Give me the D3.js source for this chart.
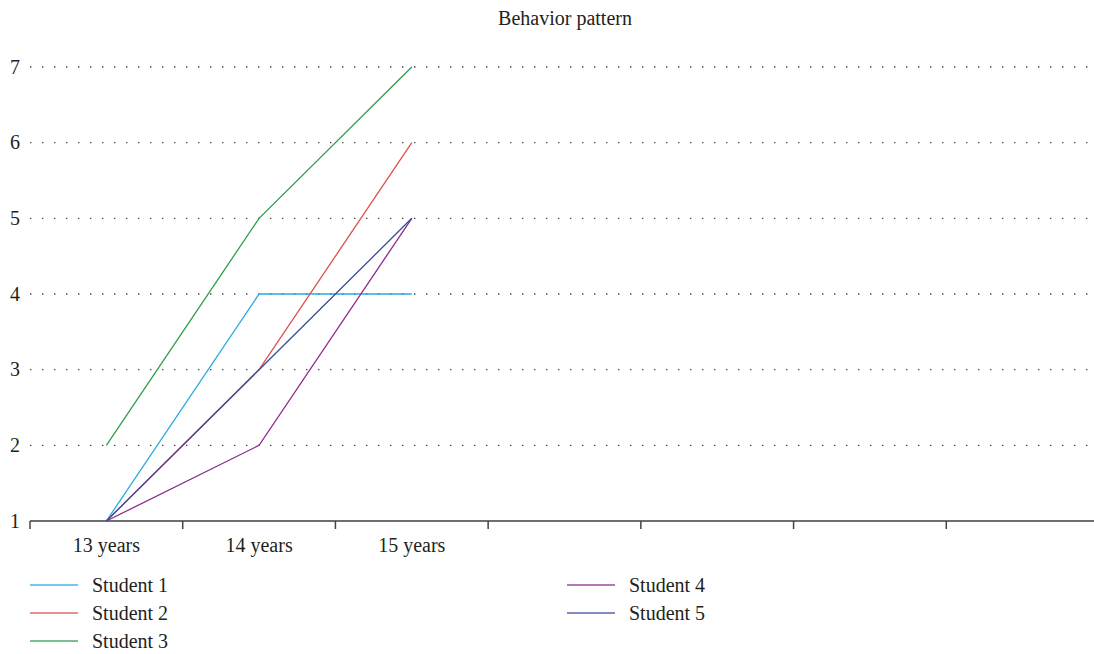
<!DOCTYPE html>
<html><head><meta charset="utf-8">
<script src="https://cdn.jsdelivr.net/npm/d3@7"></script>
<style>body{margin:0;background:#fff}svg{display:block}text{font-family:"Liberation Serif","DejaVu Serif",serif;fill:#231f20}</style>
</head><body><svg id="c" width="1094" height="654"></svg>
<script>
const categories = ["13 years","14 years","15 years","c4","c5","c6","c7"];
const shownLabels = ["13 years","14 years","15 years"];
const seriesNames = ["Student 1","Student 2","Student 3","Student 4","Student 5"];
const student1 = [1,4,4];
const student2 = [1,3,6];
const student3 = [2,5,7];
const student4 = [1,2,5];
const student5 = [1,3,5];
const yTicks = [1,2,3,4,5,6,7];
const colors = ["#29abe2","#d9534f","#2e9e4f","#8b2c8d","#3a4b9c"];
const title = "Behavior pattern";

const svg = d3.select("#c");
const mLeft = 30, mRight = 1099, mTop = 67, mBottom = 521;
const x = d3.scaleBand().domain(categories).range([mLeft, mRight]);
const y = d3.scaleLinear().domain([1,7]).range([mBottom, mTop]);

// gridlines
svg.append("g").selectAll("line").data(yTicks.slice(1)).join("line")
  .attr("x1", mLeft).attr("x2", 1092)
  .attr("y1", d=>y(d)).attr("y2", d=>y(d))
  .attr("stroke", "#444").attr("stroke-width", 1.4)
  .attr("stroke-dasharray", "1.4,10.6");

// y labels
svg.append("g").selectAll("text").data(yTicks).join("text")
  .attr("x", 20).attr("y", d=>y(d)+6.5)
  .attr("text-anchor","end").attr("font-size", 20).text(d=>d);

// x axis
const ax = svg.append("g");
ax.append("line").attr("x1", mLeft).attr("x2", 1094).attr("y1", mBottom).attr("y2", mBottom)
  .attr("stroke", "#6d6e71").attr("stroke-width", 2);
ax.selectAll("line.t").data(categories).join("line").attr("class","t")
  .attr("x1", d=>x(d)).attr("x2", d=>x(d)).attr("y1", mBottom).attr("y2", mBottom+8)
  .attr("stroke", "#444").attr("stroke-width", 1.5);
ax.selectAll("text").data(shownLabels).join("text")
  .attr("x", d=>x(d)+x.bandwidth()/2).attr("y", 552)
  .attr("text-anchor","middle").attr("font-size", 20).text(d=>d);

// lines
const data = [student1,student2,student3,student4,student5];
const line = d3.line().x((d,i)=>x(categories[i])+x.bandwidth()/2).y(d=>y(d));
svg.append("g").selectAll("path").data(data).join("path")
  .attr("d", line).attr("fill","none")
  .attr("stroke", (d,i)=>colors[i]).attr("stroke-width", 1.3);

// title
svg.append("text").attr("x", 565).attr("y", 25).attr("text-anchor","middle")
  .attr("font-size", 20).text(title);

// legend
const legPos = [[30,585],[30,613],[30,641],[567,585],[567,613]];
const lg = svg.append("g");
seriesNames.forEach((n,i)=>{
  const [lx,ly] = legPos[i];
  lg.append("line").attr("x1", lx).attr("x2", lx+48).attr("y1", ly).attr("y2", ly)
    .attr("stroke", colors[i]).attr("stroke-width", 1.5).attr("opacity", 0.85);
  lg.append("text").attr("x", lx+62).attr("y", ly+6.5).attr("font-size", 20).text(n);
});
</script></body></html>
